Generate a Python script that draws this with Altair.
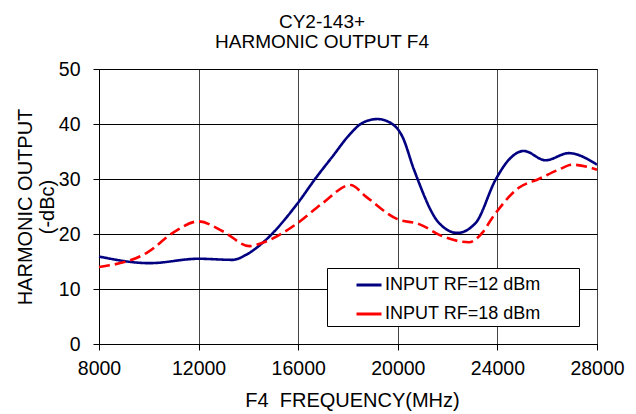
import altair as alt
import pandas as pd

series_names = ["INPUT RF=12 dBm", "INPUT RF=18 dBm"]

freq_12 = [8000, 10030, 12000, 13370, 13900, 14570, 15980, 16710, 17380, 18050,
           18580, 19180, 19780, 20185, 20650, 21655, 22390, 23125, 23930, 24460,
           25060, 25930, 26865, 28000]
out_12 = [15.9, 14.7, 15.5, 15.3, 16.2, 18.4, 25.6, 30.2, 34.1, 38.0,
          40.2, 40.9, 40.0, 37.7, 31.7, 22.0, 20.2, 22.0, 29.9, 33.5,
          35.1, 33.4, 34.7, 32.6]

freq_18 = [8000, 9965, 10965, 12000, 12970, 14040, 14570, 15980, 16980, 18100,
           18720, 19985, 20855, 21790, 22860, 23390, 23790, 24860, 25660, 26465,
           27000, 28000]
out_18 = [14.0, 16.7, 20.2, 22.3, 20.5, 17.8, 18.4, 22.0, 25.6, 28.9,
          26.8, 22.7, 21.8, 19.6, 18.5, 20.2, 22.9, 28.4, 30.0, 31.7,
          32.6, 31.7]

x_ticks = [8000, 12000, 16000, 20000, 24000, 28000]
y_ticks = [0, 10, 20, 30, 40, 50]

rows = []
for f, v in zip(freq_12, out_12):
    rows.append({"freq": f, "val": v, "series": series_names[0], "dash": "solid"})
for f, v in zip(freq_18, out_18):
    rows.append({"freq": f, "val": v, "series": series_names[1], "dash": "dashed"})
df = pd.DataFrame(rows)

FONT = "Liberation Sans"
NB = "\u00a0"
ZW = "\u200b"

chart = alt.Chart(df).mark_line(interpolate="monotone", strokeWidth=2.6).encode(
    x=alt.X("freq:Q",
            scale=alt.Scale(domain=[8000, 28000], nice=False, zero=False),
            axis=alt.Axis(values=x_ticks, title="F4" + NB + " FREQUENCY(MHz)", format="d",
                          grid=True, gridColor="#444444", gridOpacity=1,
                          domainColor="#000000", tickColor="#000000", tickSize=6,
                          labelFontSize=19.5, titleFontSize=20, labelPadding=9,
                          titlePadding=13, titleFontWeight="normal", labelFlush=False,
                          labelColor="#000000", titleColor="#000000",
                          labelFont=FONT, titleFont=FONT, titleX=253)),
    y=alt.Y("val:Q",
            scale=alt.Scale(domain=[0, 50], nice=False),
            axis=alt.Axis(values=y_ticks, title=["HARMONIC OUTPUT", "(-dBc)"],
                          grid=True, gridColor="#000000", gridOpacity=1,
                          domainColor="#000000", tickColor="#000000", tickSize=6,
                          labelFontSize=19.5, titleFontSize=20, labelPadding=13,
                          titlePadding=1, titleFontWeight="normal", labelFlush=False,
                          labelColor="#000000", titleColor="#000000",
                          labelFont=FONT, titleFont=FONT, titleLineHeight=22)),
    color=alt.Color("series:N",
                    scale=alt.Scale(domain=series_names, range=["#000080", "#FF0000"]),
                    legend=alt.Legend(title=None, orient="none", legendX=228, legendY=199,
                                      direction="vertical", fillColor="white",
                                      strokeColor="#000000", padding=3,
                                      symbolOffset=25, symbolType="stroke",
                                      symbolSize=625, symbolStrokeWidth=3,
                                      labelFontSize=18, labelFont=FONT,
                                      labelColor="#000000", labelOffset=2,
                                      labelLimit=400, rowPadding=6,
                                      labelExpr="datum.label + '" + NB * 7 + ZW + "'")),
    strokeDash=alt.StrokeDash("dash:N",
                              scale=alt.Scale(domain=["solid", "dashed"], range=[[1, 0], [11, 5]]),
                              legend=None),
).properties(
    width=498,
    height=275,
    title=alt.TitleParams(["CY2-143+", "HARMONIC OUTPUT F4"], fontSize=19,
                          fontWeight="normal", font=FONT, color="#000000",
                          lineHeight=20, anchor="middle", offset=7, dx=-26),
    autosize=alt.AutoSizeParams(type="none"),
    padding={"left": 91, "top": 61, "right": 30, "bottom": 68},
).configure_view(stroke="#000000", strokeWidth=1)

chart.save("out.html", embed_options={"renderer": "svg", "actions": False})
